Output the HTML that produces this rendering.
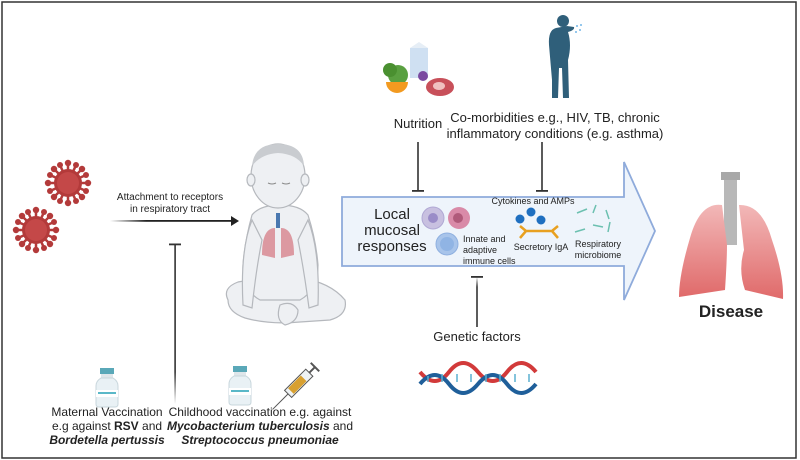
<!DOCTYPE html><html><head><style>body{margin:0;background:#fff}svg{display:block}text{font-family:"Liberation Sans",sans-serif;fill:#222}</style></head><body>
<svg width="800" height="460" viewBox="0 0 800 460" xmlns="http://www.w3.org/2000/svg">
<defs>
<linearGradient id="fade" x1="0" y1="0" x2="0" y2="1"><stop offset="0" stop-color="#333"/><stop offset="0.8" stop-color="#333"/><stop offset="1" stop-color="#333" stop-opacity="0"/></linearGradient>
<linearGradient id="fadeh" x1="0" y1="0" x2="1" y2="0"><stop offset="0" stop-color="#222" stop-opacity="0"/><stop offset="0.3" stop-color="#222"/></linearGradient>
<linearGradient id="lung" x1="0" y1="0" x2="0" y2="1"><stop offset="0" stop-color="#f2b8b8"/><stop offset="1" stop-color="#e06a6a"/></linearGradient>
<g id="virus"><g stroke="#b33a3a" stroke-width="2.5">
<line x1="0" y1="-20" x2="0" y2="20"/><line x1="-20" y1="0" x2="20" y2="0"/><line x1="-14" y1="-14" x2="14" y2="14"/><line x1="-14" y1="14" x2="14" y2="-14"/>
<line x1="-8" y1="-18" x2="8" y2="18"/><line x1="-18" y1="-8" x2="18" y2="8"/><line x1="-18" y1="8" x2="18" y2="-8"/><line x1="-8" y1="18" x2="8" y2="-18"/></g>
<g fill="#b33a3a"><circle r="14"/><circle cx="0" cy="-20" r="3.2"/><circle cx="0" cy="20" r="3.2"/><circle cx="20" cy="0" r="3.2"/><circle cx="-20" cy="0" r="3.2"/><circle cx="14" cy="14" r="3.2"/><circle cx="-14" cy="-14" r="3.2"/><circle cx="14" cy="-14" r="3.2"/><circle cx="-14" cy="14" r="3.2"/><circle cx="8" cy="18" r="3"/><circle cx="-8" cy="-18" r="3"/><circle cx="18" cy="8" r="3"/><circle cx="-18" cy="-8" r="3"/><circle cx="18" cy="-8" r="3"/><circle cx="-18" cy="8" r="3"/><circle cx="8" cy="-18" r="3"/><circle cx="-8" cy="18" r="3"/></g>
<circle r="11" fill="#c44848"/></g>
<g id="vial"><rect x="-7" y="0" width="14" height="6" fill="#5aa8b8"/><rect x="-6" y="6" width="12" height="4" fill="#dfe6ea"/><path d="M-6 10 Q-11 13 -11 18 V36 Q-11 39 -8 39 H8 Q11 39 11 36 V18 Q11 13 6 10Z" fill="#e9f1f5" stroke="#c8d6dc"/><rect x="-11" y="22" width="22" height="7" fill="#fff"/><rect x="-9" y="24" width="18" height="2" fill="#5ab8c8"/></g>
</defs>
<rect x="2" y="2" width="794" height="456" fill="none" stroke="#333" stroke-width="1.5"/>
<use href="#virus" x="68" y="183"/><use href="#virus" x="36" y="230"/>
<text x="170" y="200" font-size="10" text-anchor="middle">Attachment to receptors</text>
<text x="170" y="212" font-size="10" text-anchor="middle">in respiratory tract</text>
<rect x="110" y="220" width="121" height="1.8" fill="url(#fadeh)"/>
<polygon points="231,216 239,221 231,226" fill="#222"/>
<rect x="174.3" y="244" width="1.6" height="160" fill="url(#fade)"/><rect x="169" y="243.5" width="12" height="1.8" fill="#333"/>
<!-- baby -->
<g fill="#eef0f3" stroke="#b5b8bd" stroke-width="1.2">
<path d="M228 300 Q222 288 238 282 L262 278 L300 278 Q330 282 345 300 Q348 315 330 320 L300 322 Q270 325 245 318 Q228 312 228 300Z"/>
<path d="M252 215 Q245 240 243 265 Q242 290 260 300 L300 300 Q318 290 318 265 Q316 240 308 215 Q300 205 280 205 Q260 205 252 215Z"/>
<path d="M252 220 Q240 250 243 305 L252 308 Q256 270 262 240Z"/>
<path d="M308 220 Q320 250 318 305 L309 308 Q304 270 298 240Z"/>
<ellipse cx="278" cy="176" rx="27" ry="32"/>
<ellipse cx="251" cy="180" rx="4" ry="6"/><ellipse cx="305" cy="180" rx="4" ry="6"/>
<path d="M280 305 Q292 300 298 310 Q298 322 285 325 Q275 320 280 305Z"/>
</g>
<path d="M252 166 Q254 144 278 144 Q303 144 304 166 Q296 154 278 153 Q261 154 252 166Z" fill="#c9ccd0"/>
<path d="M268 183 q4 2 8 0 M282 183 q4 2 8 0" stroke="#888" fill="none"/>
<rect x="276" y="213" width="4" height="15" fill="#4a78b0"/>
<path d="M275 228 Q262 228 262 255 L275 258Z M281 228 Q294 228 294 255 L281 258Z" fill="#d88a92" opacity="0.85"/>
<!-- big arrow -->
<polygon points="342,197 624,197 624,162 655,231 624,300 624,266 342,266" fill="#eef4fb" stroke="#8fabdb" stroke-width="1.8"/>
<text x="392" y="219" font-size="15" text-anchor="middle">Local</text>
<text x="392" y="235" font-size="15" text-anchor="middle">mucosal</text>
<text x="392" y="251" font-size="15" text-anchor="middle">responses</text>
<circle cx="433" cy="218" r="11" fill="#c8c0e0" stroke="#b0a8d4"/><circle cx="433" cy="218" r="5" fill="#9a8cc8"/>
<circle cx="459" cy="218" r="11" fill="#d98aa8"/><circle cx="458" cy="218" r="5" fill="#b05a7a"/>
<circle cx="447" cy="244" r="11" fill="#a8c4ea" stroke="#8fb0e0"/><circle cx="447" cy="244" r="7" fill="#90b4e4"/>
<text x="463" y="242" font-size="9">Innate and</text><text x="463" y="253" font-size="9">adaptive</text><text x="463" y="264" font-size="9">immune cells</text>
<text x="533" y="204" font-size="9" text-anchor="middle">Cytokines and AMPs</text>
<circle cx="520" cy="219" r="4.5" fill="#1f6fc0"/><circle cx="531" cy="212" r="4.5" fill="#1f6fc0"/><circle cx="541" cy="220" r="4.5" fill="#1f6fc0"/>
<path d="M526 231 L552 231 M526 231 L520 226 M526 231 L520 238 M552 231 L558 226 M552 231 L558 238" stroke="#e8a020" stroke-width="2.5" fill="none"/>
<text x="541" y="250" font-size="9" text-anchor="middle">Secretory IgA</text>
<path d="M577 213 l10 -4 M596 205 l-3 8 M606 210 l3 9 M575 232 l10 -3 M593 225 l10 2 M610 222 l-2 10" stroke="#6cc0b0" stroke-width="1.5"/>
<text x="598" y="247" font-size="9" text-anchor="middle">Respiratory</text><text x="598" y="258" font-size="9" text-anchor="middle">microbiome</text>
<!-- inhibitors -->
<rect x="417.2" y="142" width="1.6" height="49" fill="#333"/><rect x="412" y="190" width="12" height="1.8" fill="#333"/>
<rect x="541.2" y="142" width="1.6" height="49" fill="#333"/><rect x="536" y="190" width="12" height="1.8" fill="#333"/>
<rect x="476.2" y="277" width="1.6" height="50" fill="url(#fade)" transform="rotate(180 477 302)"/><rect x="471" y="276" width="12" height="1.8" fill="#333"/>
<text x="418" y="128" font-size="13" text-anchor="middle">Nutrition</text>
<text x="555" y="122" font-size="13" text-anchor="middle">Co-morbidities e.g., HIV, TB, chronic</text>
<text x="555" y="138" font-size="13" text-anchor="middle">inflammatory conditions (e.g. asthma)</text>
<text x="477" y="341" font-size="13" text-anchor="middle">Genetic factors</text>
<!-- food -->
<rect x="410" y="48" width="18" height="30" fill="#cfe0f2"/><polygon points="410,48 419,42 428,48" fill="#e6eef6"/>
<circle cx="398" cy="75" r="10" fill="#5aa040"/><circle cx="390" cy="70" r="7" fill="#4a9030"/>
<path d="M386 82 A11 11 0 0 0 408 82Z" fill="#f29a20"/>
<ellipse cx="440" cy="87" rx="14" ry="9" fill="#c8505a"/><ellipse cx="439" cy="86" rx="6" ry="4" fill="#f0c0c0"/>
<circle cx="423" cy="76" r="5" fill="#7a4aa0"/>
<!-- person -->
<g fill="#2f5f7a"><circle cx="563" cy="21" r="6"/>
<path d="M556 28 Q548 30 549 45 L552 80 L552 98 L558 98 L559 68 L562 68 L563 98 L569 98 L568 60 Q572 45 568 32 Q575 30 574 27 L567 26 Z"/></g>
<g fill="#4aa0e0"><circle cx="577" cy="26" r="0.9"/><circle cx="580" cy="30" r="0.9"/><circle cx="576" cy="32" r="0.9"/><circle cx="581" cy="25" r="0.9"/></g>
<!-- DNA -->
<path d="M420 372 Q435 390 449 372 T478 372 T507 372 T536 372" stroke="#d23a3a" stroke-width="4" fill="none"/>
<path d="M420 384 Q435 366 449 384 T478 384 T507 384 T536 384" stroke="#1f5f9a" stroke-width="4" fill="none"/>
<g stroke="#5ab0d0" stroke-width="1.5"><line x1="428" y1="376" x2="428" y2="382"/><line x1="442" y1="374" x2="442" y2="382"/><line x1="457" y1="374" x2="457" y2="382"/><line x1="471" y1="374" x2="471" y2="382"/><line x1="486" y1="374" x2="486" y2="382"/><line x1="500" y1="374" x2="500" y2="382"/><line x1="515" y1="374" x2="515" y2="382"/><line x1="529" y1="374" x2="529" y2="382"/></g>
<!-- lungs -->
<rect x="724" y="175" width="13" height="70" fill="#b8b8b8"/><rect x="721" y="172" width="19" height="8" fill="#a8a8a8"/>
<path d="M722 205 Q700 202 690 238 Q679 275 679 297 L725 290 Q727 260 727 245 Z" fill="url(#lung)"/>
<path d="M739 205 Q762 204 772 240 Q784 275 783 299 L745 290 Q738 270 744 250 Z" fill="url(#lung)"/>
<text x="731" y="317" font-size="17" font-weight="bold" text-anchor="middle">Disease</text>
<!-- vaccines -->
<use href="#vial" x="107" y="368"/><use href="#vial" x="240" y="366"/>
<g transform="rotate(-45 298 384)"><rect x="284" y="379" width="30" height="10" fill="#eef2f4" stroke="#555"/><rect x="288" y="380" width="18" height="8" fill="#d8a030"/><line x1="284" y1="384" x2="262" y2="384" stroke="#555"/><line x1="314" y1="384" x2="322" y2="384" stroke="#555" stroke-width="2"/><line x1="322" y1="378" x2="322" y2="390" stroke="#555" stroke-width="2"/></g>
<text x="107" y="416" font-size="12" text-anchor="middle">Maternal Vaccination</text>
<text x="107" y="430" font-size="12" text-anchor="middle">e.g against <tspan font-weight="bold">RSV</tspan> and</text>
<text x="107" y="444" font-size="12" text-anchor="middle" font-weight="bold" font-style="italic">Bordetella pertussis</text>
<text x="260" y="416" font-size="12" text-anchor="middle">Childhood vaccination e.g. against</text>
<text x="260" y="430" font-size="12" text-anchor="middle"><tspan font-weight="bold" font-style="italic">Mycobacterium tuberculosis</tspan> and</text>
<text x="260" y="444" font-size="12" text-anchor="middle" font-weight="bold" font-style="italic">Streptococcus pneumoniae</text>
</svg></body></html>
